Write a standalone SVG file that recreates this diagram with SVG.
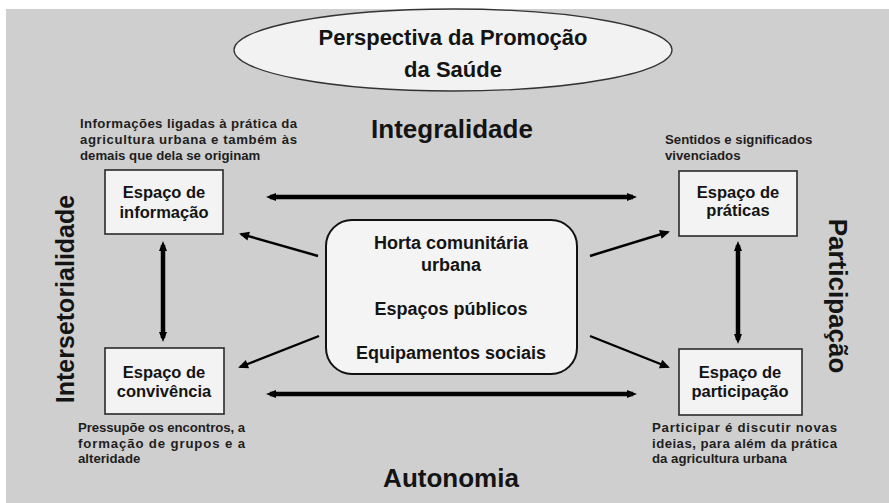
<svg xmlns="http://www.w3.org/2000/svg" width="889" height="503" viewBox="0 0 889 503">
<defs>
<style>
text{font-family:"Liberation Sans",Arial,sans-serif;fill:#141414;font-weight:bold}
.box{fill:#f3f3f3;stroke:#2a2a2a;stroke-width:1.6}
.lbl{font-size:16.5px;text-anchor:middle}
.big{font-size:26px;text-anchor:middle}
.note{font-size:13.2px;font-weight:bold;fill:#1e1e1e}
.thick{stroke:#000;stroke-width:4.5;fill:none}
.thin{stroke:#000;stroke-width:2.4;fill:none}
</style>
<marker id="hb" viewBox="0 0 10 10" refX="6" refY="5" markerWidth="10" markerHeight="10" markerUnits="userSpaceOnUse" orient="auto-start-reverse">
<path d="M0,1 L10,5 L0,9 z" fill="#000"/>
</marker>
<marker id="hs" viewBox="0 0 10 10" refX="8" refY="5" markerWidth="11" markerHeight="10" markerUnits="userSpaceOnUse" orient="auto">
<path d="M0,0.5 L10,5 L0,9.5 z" fill="#000"/>
</marker>
</defs>
<rect x="6" y="9" width="883" height="494" fill="#d0cfcf"/>

<g id="title">
<ellipse cx="453" cy="50" rx="219" ry="41" fill="#f2f2f2" stroke="#333" stroke-width="1.3"/>
<text x="453" y="45" style="font-size:22px" text-anchor="middle">Perspectiva da Promoção</text>
<text x="453" y="77" style="font-size:22px" text-anchor="middle">da Saúde</text>
</g>

<g id="labels">
<text class="big" x="452" y="138">Integralidade</text>
<text class="big" x="451" y="487">Autonomia</text>
<text class="big" transform="translate(74,299) rotate(-90)" style="font-size:25px">Intersetorialidade</text>
<text class="big" transform="translate(829,296) rotate(90)">Participação</text>
</g>

<g id="connectors">
<line class="thick" x1="270" y1="197" x2="633" y2="197" marker-start="url(#hb)" marker-end="url(#hb)"/>
<line class="thick" x1="270" y1="394" x2="633" y2="394" marker-start="url(#hb)" marker-end="url(#hb)"/>
<line class="thick" x1="163" y1="245" x2="163" y2="338" marker-start="url(#hb)" marker-end="url(#hb)"/>
<line class="thick" x1="738" y1="245" x2="738" y2="340" marker-start="url(#hb)" marker-end="url(#hb)"/>
<line class="thin" x1="318" y1="256" x2="241" y2="234" marker-end="url(#hs)"/>
<line class="thin" x1="590" y1="256" x2="668" y2="232" marker-end="url(#hs)"/>
<line class="thin" x1="319" y1="336" x2="240" y2="367" marker-end="url(#hs)"/>
<line class="thin" x1="590" y1="336" x2="668" y2="367" marker-end="url(#hs)"/>
</g>

<g id="center">
<rect x="326" y="220" width="251" height="154" rx="26" fill="#f4f4f4" stroke="#111" stroke-width="2"/>
<text class="lbl" x="451" y="249" style="font-size:18px">Horta comunitária</text>
<text class="lbl" x="451" y="271" style="font-size:18px">urbana</text>
<text class="lbl" x="451" y="315" style="font-size:18px">Espaços públicos</text>
<text class="lbl" x="451" y="359" style="font-size:18px">Equipamentos sociais</text>
</g>

<g id="informacao">
<rect class="box" x="105" y="170" width="118" height="64"/>
<text class="lbl" x="164" y="198">Espaço de</text>
<text class="lbl" x="164" y="218">informação</text>
</g>
<g id="praticas">
<rect class="box" x="679" y="171" width="118" height="65"/>
<text class="lbl" x="738" y="198">Espaço de</text>
<text class="lbl" x="738" y="216">práticas</text>
</g>
<g id="convivencia">
<rect class="box" x="105" y="348" width="119" height="66"/>
<text class="lbl" x="164" y="378">Espaço de</text>
<text class="lbl" x="164" y="397">convivência</text>
</g>
<g id="participacao">
<rect class="box" x="679" y="349" width="123" height="66"/>
<text class="lbl" x="740" y="378">Espaço de</text>
<text class="lbl" x="740" y="397">participação</text>
</g>

<g id="notes">
<text class="note" x="80" y="128" textLength="217" lengthAdjust="spacing">Informações ligadas à prática da</text>
<text class="note" x="80" y="144" textLength="217" lengthAdjust="spacing">agricultura urbana e também às</text>
<text class="note" x="80" y="160">demais que dela se originam</text>
<text class="note" x="665" y="144">Sentidos e significados</text>
<text class="note" x="665" y="160">vivenciados</text>
<text class="note" x="78" y="432" textLength="167" lengthAdjust="spacing">Pressupõe os encontros, a</text>
<text class="note" x="78" y="448" textLength="167" lengthAdjust="spacing">formação de grupos e a</text>
<text class="note" x="78" y="463">alteridade</text>
<text class="note" x="652" y="432" textLength="185" lengthAdjust="spacing">Participar é discutir novas</text>
<text class="note" x="652" y="448" textLength="185" lengthAdjust="spacing">ideias, para além da prática</text>
<text class="note" x="652" y="463">da agricultura urbana</text>
</g>
</svg>
